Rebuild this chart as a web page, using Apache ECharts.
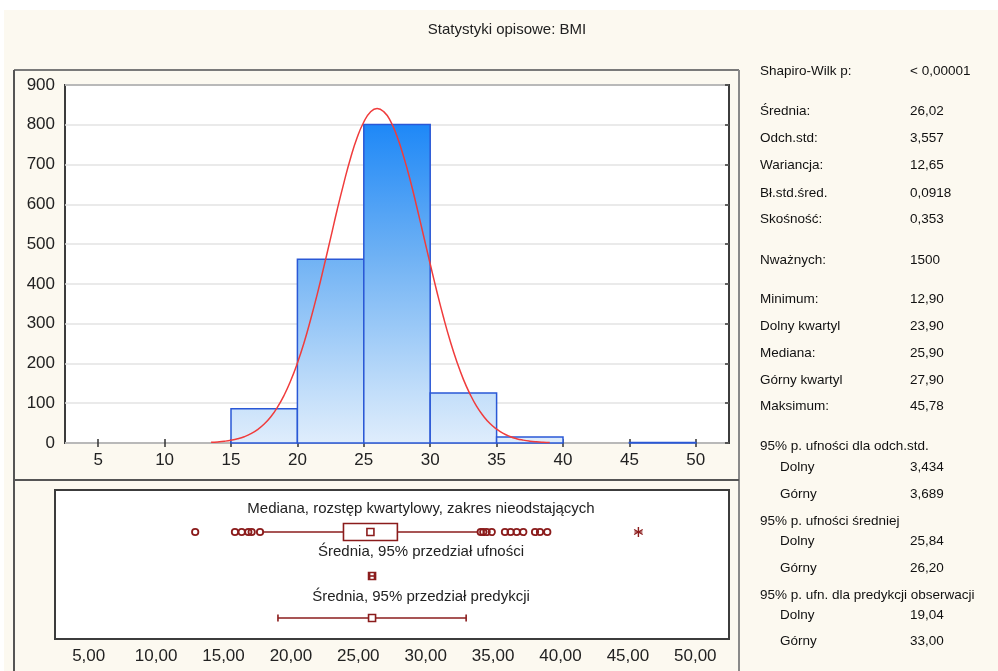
<!DOCTYPE html>
<html><head><meta charset="utf-8">
<script src="https://cdn.jsdelivr.net/npm/echarts@6/dist/echarts.min.js"></script>
<style>html,body{margin:0;padding:0;background:#fff}#c{width:998px;height:671px}</style>
</head><body><div id="c"></div>
<script>
// ---------- data ----------
const binStarts = [10, 15, 20, 25, 30, 35, 40, 45];
const binWidth = 5;
const binCounts = [0, 86, 462, 801, 126, 15, 0, 1];
const xTicks = [5, 10, 15, 20, 25, 30, 35, 40, 45, 50];
const yTicks = [0, 100, 200, 300, 400, 500, 600, 700, 800, 900];
const curveX = [13.5,14,14.5,15,15.5,16,16.5,17,17.5,18,18.5,19,19.5,20,20.5,21,21.5,22,22.5,23,23.5,24,24.5,25,25.5,26,26.5,27,27.5,28,28.5,29,29.5,30,30.5,31,31.5,32,32.5,33,33.5,34,34.5,35,35.5,36,36.5,37,37.5,38,38.5,39];
const curveY = [1.7,2.8,4.4,6.9,10.6,15.9,23.4,33.8,47.8,66.2,90,120,157,201,252,311,375,444,515,587,654,716,768,807,832,841,833,810,771,720,660,592,521,450,381,316,257,205,160,123,92,68,49,35,24,16.4,10.9,7.2,4.6,2.9,1.8,1.1];

const boxStats = [17.9, 23.9, 25.9, 27.9, 33.9]; // lower whisker, Q1, median, Q3, upper whisker
const outliers = [12.90, 15.85, 16.35, 16.84, 17.09, 17.71, 34.08, 34.27, 34.52, 34.90, 35.88, 36.30, 36.75, 37.24, 38.11, 38.48, 39.02];
const extremes = [45.78];
const meanValue = 26.02;
const meanCI = [25.84, 26.20];
const predictionInterval = [19.04, 33.00];
const boxTicks = [5, 10, 15, 20, 25, 30, 35, 40, 45, 50];

const titleText = 'Statystyki opisowe: BMI';
const panelLabels = ['Mediana, rozstęp kwartylowy, zakres nieodstających', 'Średnia, 95% przedział ufności', 'Średnia, 95% przedział predykcji'];
const statLabels = ['Shapiro-Wilk p:', 'Średnia:', 'Odch.std:', 'Wariancja:', 'Bł.std.śred.', 'Skośność:', 'Nważnych:', 'Minimum:', 'Dolny kwartyl', 'Mediana:', 'Górny kwartyl', 'Maksimum:', '95% p. ufności dla odch.std.', 'Dolny', 'Górny', '95% p. ufności średniej', 'Dolny', 'Górny', '95% p. ufn. dla predykcji obserwacji', 'Dolny', 'Górny'];
const statValues = ['< 0,00001', '26,02', '3,557', '12,65', '0,0918', '0,353', '1500', '12,90', '23,90', '25,90', '27,90', '45,78', '', '3,434', '3,689', '', '25,84', '26,20', '', '19,04', '33,00'];

// ---------- layout ----------
const FONT = 'Liberation Sans, Arial, sans-serif';
const statY = [71.7, 111.7, 138.3, 165, 193, 219.3, 260, 299.3, 326.7, 353.3, 380.7, 406.7, 446.7, 467, 494, 521.7, 541.7, 568.3, 595, 615, 641.7];
const statIndent = [0,0,0,0,0,0,0,0,0,0,0,0,0,1,1,0,1,1,0,1,1];
const rowBox = 42, rowCI = 86, rowPred = 128; // box panel rows (px offset from grid top)
const panelLabelY = [509, 552, 597];
const DARK_RED = '#8b1c1c';

const chart = echarts.init(document.getElementById('c'), null, {renderer: 'canvas'});

const graphics = [
  {type: 'rect', shape: {x: 0, y: 0, width: 998, height: 10}, style: {fill: '#ffffff'}, silent: true, z: -10},
  {type: 'rect', shape: {x: 0, y: 0, width: 4, height: 671}, style: {fill: '#ffffff'}, silent: true, z: -10},
  {type: 'line', shape: {x1: 14, y1: 70, x2: 739, y2: 70}, style: {stroke: '#7a7a7a', lineWidth: 2}},
  {type: 'line', shape: {x1: 14, y1: 70, x2: 14, y2: 671}, style: {stroke: '#555', lineWidth: 2}},
  {type: 'line', shape: {x1: 739, y1: 70, x2: 739, y2: 671}, style: {stroke: '#8a8a8a', lineWidth: 2}},
  {type: 'line', shape: {x1: 14, y1: 480, x2: 739, y2: 480}, style: {stroke: '#555', lineWidth: 2}},
  {type: 'text', x: 507, y: 30, style: {text: titleText, font: '15px ' + FONT, fill: '#222', textAlign: 'center', textVerticalAlign: 'middle'}}
];
panelLabels.forEach((t, i) => {
  graphics.push({type: 'text', x: 421, y: panelLabelY[i], z: 10, style: {text: t, font: '15px ' + FONT, fill: '#222', textAlign: 'center', textVerticalAlign: 'middle'}});
});
statLabels.forEach((t, i) => {
  graphics.push({type: 'text', x: statIndent[i] ? 780 : 760, y: statY[i], style: {text: t, font: '13.5px ' + FONT, fill: '#111', textVerticalAlign: 'middle'}});
  if (statValues[i]) graphics.push({type: 'text', x: 910, y: statY[i], style: {text: statValues[i], font: '13.5px ' + FONT, fill: '#111', textVerticalAlign: 'middle'}});
});

const fmtComma = v => v.toFixed(2).replace('.', ',');

const option = {
  backgroundColor: '#fcf9f0',
  animation: false,
  graphic: graphics,
  grid: [
    {left: 65, top: 85, width: 664, height: 358, show: true, backgroundColor: '#ffffff', borderColor: '#3c3c3c', borderWidth: 2},
    {left: 55, top: 490, width: 674, height: 149, show: true, backgroundColor: '#ffffff', borderColor: '#3c3c3c', borderWidth: 2}
  ],
  xAxis: [
    {gridIndex: 0, type: 'value', min: 2.5, max: 52.5, position: 'bottom',
      axisLine: {show: false}, splitLine: {show: false},
      axisTick: {show: true, inside: true, length: 4, customValues: xTicks, lineStyle: {color: '#333', width: 1.5}},
      axisLabel: {customValues: xTicks, fontSize: 17, fontFamily: FONT, color: '#222', margin: 9}},
    {gridIndex: 0, type: 'value', min: 2.5, max: 52.5, position: 'top',
      axisLine: {show: false}, splitLine: {show: false},
      axisTick: {show: true, inside: true, length: 4, customValues: xTicks, lineStyle: {color: '#333', width: 1.5}},
      axisLabel: {show: false}},
    {gridIndex: 1, type: 'value', min: 2.5, max: 52.5, position: 'bottom',
      axisLine: {show: false}, splitLine: {show: false}, axisTick: {show: false},
      axisLabel: {customValues: boxTicks, formatter: fmtComma, fontSize: 17, fontFamily: FONT, color: '#222', margin: 9}}
  ],
  yAxis: [
    {gridIndex: 0, type: 'value', min: 0, max: 900, interval: 100,
      axisLine: {show: false}, axisTick: {show: false},
      splitLine: {show: true, lineStyle: {color: '#e3e3e3', width: 1.5}},
      axisLabel: {customValues: yTicks, fontSize: 17, fontFamily: FONT, color: '#222', margin: 10}},
    {gridIndex: 0, type: 'value', min: 0, max: 900, interval: 100, position: 'right',
      axisLine: {show: false}, splitLine: {show: false},
      axisTick: {show: true, inside: true, length: 4, lineStyle: {color: '#333', width: 1.5}},
      axisLabel: {show: false}},
    {gridIndex: 1, type: 'value', min: 0, max: 149, inverse: true, show: false}
  ],
  series: [
    {
      type: 'custom', xAxisIndex: 0, yAxisIndex: 0, z: 2,
      data: binStarts.map((s, i) => [s, s + binWidth, binCounts[i]]),
      encode: {x: [0, 1], y: 2},
      renderItem(params, api) {
        if (!api.value(2)) return null;
        const p0 = api.coord([api.value(0), api.value(2)]);
        const p1 = api.coord([api.value(1), 0]);
        const yTop = api.coord([0, Math.max(...binCounts)])[1];
        const grad = new echarts.graphic.LinearGradient(0, yTop, 0, p1[1], [
          {offset: 0, color: '#1e88f7'},
          {offset: 0.42, color: '#70b2f4'},
          {offset: 0.85, color: '#c4dffa'},
          {offset: 1, color: '#dfedfc'}
        ], true);
        return {type: 'rect', shape: {x: p0[0], y: p0[1], width: p1[0] - p0[0], height: p1[1] - p0[1]},
          style: {fill: grad, stroke: '#2a58d6', lineWidth: 1.5}};
      }
    },
    {
      type: 'line', xAxisIndex: 0, yAxisIndex: 0, z: 5, smooth: true, showSymbol: false, symbol: 'none',
      data: curveX.map((x, i) => [x, curveY[i]]),
      lineStyle: {color: '#f03c3c', width: 1.5}
    },
    {
      type: 'custom', xAxisIndex: 2, yAxisIndex: 2, z: 5,
      data: [[boxStats[2], rowBox]],
      renderItem(params, api) {
        const c = (v, r) => api.coord([v, r]);
        const children = [];
        const st = {stroke: DARK_RED, lineWidth: 1.6, fill: null};
        const hline = (a, b, r) => { const p = c(a, r), q = c(b, r); children.push({type: 'line', shape: {x1: p[0], y1: p[1], x2: q[0], y2: q[1]}, style: st}); };
        const vcap = (v, r, h) => { const p = c(v, r); children.push({type: 'line', shape: {x1: p[0], y1: p[1] - h, x2: p[0], y2: p[1] + h}, style: st}); };
        const square = (v, r, s) => { const p = c(v, r); children.push({type: 'rect', shape: {x: p[0] - s / 2, y: p[1] - s / 2, width: s, height: s}, style: {stroke: DARK_RED, lineWidth: 1.6, fill: '#fff'}}); };
        // box row
        hline(boxStats[0], boxStats[1], rowBox);
        hline(boxStats[3], boxStats[4], rowBox);
        const q1 = c(boxStats[1], rowBox), q3 = c(boxStats[3], rowBox);
        children.push({type: 'rect', shape: {x: q1[0], y: q1[1] - 8.5, width: q3[0] - q1[0], height: 17}, style: {stroke: DARK_RED, lineWidth: 1.6, fill: '#fff'}});
        square(boxStats[2], rowBox, 7);
        outliers.forEach(v => { const p = c(v, rowBox); children.push({type: 'circle', shape: {cx: p[0], cy: p[1], r: 3.2}, style: {stroke: DARK_RED, lineWidth: 1.8, fill: 'transparent'}}); });
        extremes.forEach(v => {
          const p = c(v, rowBox);
          [90, 30, 150].forEach(a => {
            const r = a * Math.PI / 180, d = 5;
            children.push({type: 'line', shape: {x1: p[0] - d * Math.cos(r), y1: p[1] - d * Math.sin(r), x2: p[0] + d * Math.cos(r), y2: p[1] + d * Math.sin(r)}, style: {stroke: DARK_RED, lineWidth: 1.4}});
          });
          children.push({type: 'line', shape: {x1: p[0] - 4, y1: p[1], x2: p[0] + 4, y2: p[1]}, style: {stroke: DARK_RED, lineWidth: 1.2}});
        });
        // confidence interval of mean
        square(meanValue, rowCI, 7);
        hline(meanCI[0], meanCI[1], rowCI);
        vcap(meanCI[0], rowCI, 3.5); vcap(meanCI[1], rowCI, 3.5);
        // prediction interval
        hline(predictionInterval[0], predictionInterval[1], rowPred);
        vcap(predictionInterval[0], rowPred, 3.5); vcap(predictionInterval[1], rowPred, 3.5);
        square(meanValue, rowPred, 7);
        return {type: 'group', children};
      }
    }
  ]
};
chart.setOption(option);
</script>
</body></html>
